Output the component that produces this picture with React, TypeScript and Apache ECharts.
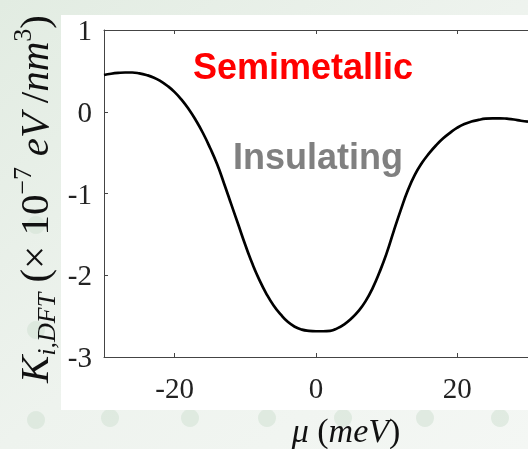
import React, { useEffect, useRef } from "react";
import * as echarts from "echarts";

const MU = [
  -30, -29, -28, -27, -26, -25, -24, -23, -22, -21, -20, -19, -18, -17, -16, -15,
  -14, -13, -12, -11, -10, -9, -8, -7, -6, -5, -4, -3, -2, -1, 0, 1, 2, 3, 4, 5,
  6, 7, 8, 9, 10, 11, 12, 13, 14, 15, 16, 17, 18, 19, 20, 21, 22, 23, 24, 25, 26,
  27, 28, 29, 30,
];
const K_DFT = [
  0.45, 0.465, 0.475, 0.48, 0.48, 0.47, 0.45, 0.42, 0.375, 0.315, 0.24, 0.145,
  0.03, -0.105, -0.26, -0.44, -0.64, -0.88, -1.13, -1.38, -1.63, -1.86, -2.06,
  -2.23, -2.37, -2.48, -2.57, -2.63, -2.665, -2.68, -2.685, -2.685, -2.68, -2.65,
  -2.6, -2.53, -2.44, -2.32, -2.16, -1.96, -1.73, -1.46, -1.2, -0.96, -0.77,
  -0.625, -0.51, -0.41, -0.325, -0.255, -0.195, -0.15, -0.12, -0.1, -0.085, -0.08,
  -0.08, -0.085, -0.095, -0.11, -0.12,
];
const X_TICKS = [-20, 0, 20];
const Y_TICKS = [-3, -2, -1, 0, 1];
const LABEL_SEMI = "Semimetallic";
const LABEL_INS = "Insulating";

const SERIF = "'Liberation Serif', 'Times New Roman', serif";
const SANS = "'Liberation Sans', Arial, sans-serif";
const DOTS = [
  [36, 225],
  [36, 330],
  [36, 420],
  [110, 418],
  [190, 418],
  [267, 418],
  [343, 418],
  [425, 418],
  [500, 418],
];

export default function App() {
  const ref = useRef<HTMLDivElement>(null);
  useEffect(() => {
    if (!ref.current) return;
    const chart = echarts.init(ref.current, null, { renderer: "svg" });
    const axisLine = { show: true, onZero: false, lineStyle: { color: "#444", width: 1 } };
    const fmt = (v: number) => (v < 0 ? "-" + Math.abs(v) : String(v));
    const option: any = {
      animation: false,
      backgroundColor: "transparent",
      grid: { left: 104, top: 30, width: 428, height: 327, containLabel: false },
      xAxis: [
        {
          type: "value",
          min: -30,
          max: 30,
          position: "bottom",
          axisLine,
          splitLine: { show: false },
          axisTick: { show: true, inside: true, length: 4, customValues: X_TICKS, lineStyle: { color: "#444" } },
          axisLabel: {
            customValues: X_TICKS,
            margin: 16,
            fontFamily: SERIF,
            fontSize: 29,
            color: "#222",
            formatter: fmt,
          },
        },
        {
          type: "value",
          min: -30,
          max: 30,
          position: "top",
          axisLine,
          splitLine: { show: false },
          axisTick: { show: true, inside: true, length: 4, customValues: X_TICKS, lineStyle: { color: "#444" } },
          axisLabel: { show: false },
        },
      ],
      yAxis: {
        type: "value",
        min: -3,
        max: 1,
        interval: 1,
        axisLine,
        splitLine: { show: false },
        axisTick: { show: true, inside: true, length: 4, lineStyle: { color: "#444" } },
        axisLabel: {
          margin: 12,
          fontFamily: SERIF,
          fontSize: 29,
          color: "#222",
          formatter: (v: number) => (Y_TICKS.includes(v) ? fmt(v) : ""),
        },
      },
      series: [
        {
          type: "line",
          data: MU.map((m, i) => [m, K_DFT[i]]),
          showSymbol: false,
          smooth: true,
          lineStyle: { color: "#000", width: 2.7 },
          z: 5,
        },
      ],
      graphic: [
        {
          type: "rect",
          z: -20,
          silent: true,
          shape: { x: 0, y: 0, width: 528, height: 449 },
          style: {
            fill: new echarts.graphic.LinearGradient(0, 0, 1, 1, [
              { offset: 0, color: "#e2ece2" },
              { offset: 0.5, color: "#eef3ee" },
              { offset: 1, color: "#f4f7f4" },
            ]),
          },
        },
        ...DOTS.map(([cx, cy]) => ({
          type: "circle",
          z: -19,
          silent: true,
          shape: { cx, cy, r: 9 },
          style: { fill: "#d3e3d6", opacity: 0.6 },
        })),
        {
          type: "rect",
          z: -18,
          silent: true,
          shape: { x: 61, y: 15, width: 480, height: 395 },
          style: { fill: "#ffffff" },
        },
        {
          type: "text",
          z: 10,
          x: 303,
          y: 66,
          style: {
            text: LABEL_SEMI,
            fontFamily: SANS,
            fontWeight: "bold",
            fontSize: 36,
            fill: "#ff0000",
            align: "center",
            verticalAlign: "middle",
          },
        },
        {
          type: "text",
          z: 10,
          x: 318,
          y: 156,
          style: {
            text: LABEL_INS,
            fontFamily: SANS,
            fontWeight: "bold",
            fontSize: 36,
            fill: "#808080",
            align: "center",
            verticalAlign: "middle",
          },
        },
        {
          type: "text",
          z: 10,
          x: 34,
          y: 199,
          rotation: Math.PI / 2,
          style: {
            text: "{it|K}{sub|i,DFT}{rm| (× 10}{sup|−7}{it| eV }{rm|/}{it|nm}{sup|3}{rm|)}",
            align: "center",
            verticalAlign: "middle",
            fill: "#111",
            rich: {
              it: { fontFamily: SERIF, fontStyle: "italic", fontSize: 41, lineHeight: 50, verticalAlign: "middle", fill: "#111" },
              rm: { fontFamily: SERIF, fontSize: 41, lineHeight: 50, verticalAlign: "middle", fill: "#111" },
              sub: { fontFamily: SERIF, fontStyle: "italic", fontSize: 26, lineHeight: 22, verticalAlign: "bottom", fill: "#111" },
              sup: { fontFamily: SERIF, fontSize: 26, lineHeight: 22, verticalAlign: "top", fill: "#111" },
            },
          },
        },
        {
          type: "text",
          z: 10,
          x: 346,
          y: 430,
          style: {
            text: "{it|μ}{rm| (}{it|meV}{rm|)}",
            align: "center",
            verticalAlign: "middle",
            rich: {
              it: { fontFamily: SERIF, fontStyle: "italic", fontSize: 34, lineHeight: 34, fill: "#111" },
              rm: { fontFamily: SERIF, fontSize: 34, lineHeight: 34, fill: "#111" },
            },
          },
        },
      ],
    };
    chart.setOption(option);
    return () => chart.dispose();
  }, []);
  return (
    <div
      ref={ref}
      style={{ position: "fixed", left: 0, top: 0, width: 528, height: 449 }}
    />
  );
}
